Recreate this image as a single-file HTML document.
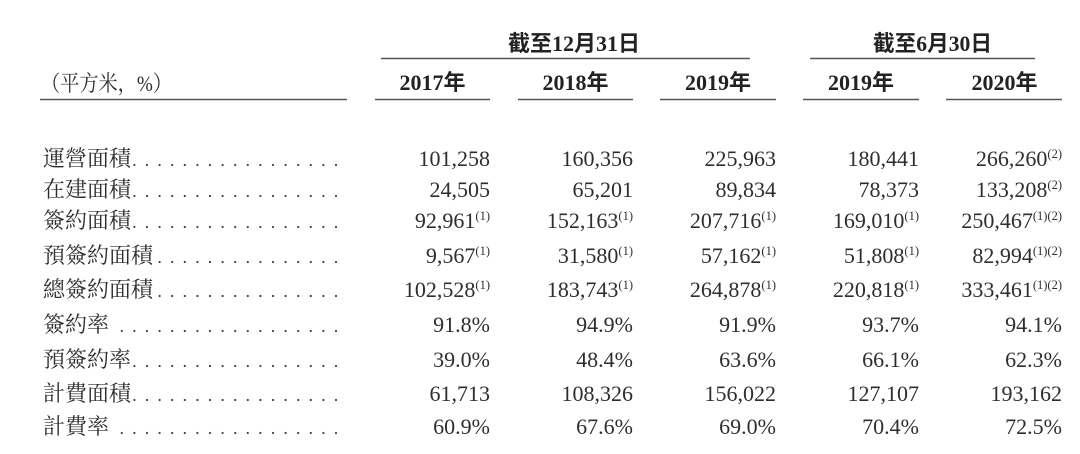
<!DOCTYPE html>
<html>
<head>
<meta charset="utf-8">
<style>
  html, body { margin: 0; padding: 0; background: #ffffff; }
  body { width: 1080px; height: 454px; overflow: hidden; }
  svg { display: block; }
  .lbl { font-family: "Liberation Serif", "Noto Serif CJK SC", serif; font-size: 22px; fill: #2e2e2e; }
  .num { font-family: "Liberation Serif", "Noto Serif CJK SC", serif; font-size: 22px; fill: #2e2e2e; }
  .hdr { font-family: "Liberation Serif", "Noto Sans CJK SC", sans-serif; font-size: 22px; font-weight: bold; fill: #222; }
  .sup { font-size: 12.5px; }
  .rule { stroke: #555; stroke-width: 1.6; }
  .dots { stroke: #444; stroke-width: 2.2; stroke-linecap: round; stroke-dasharray: 0 12.6; }
</style>
</head>
<body>
<svg width="1080" height="454" viewBox="0 0 1080 454" xmlns="http://www.w3.org/2000/svg">
  <!-- top group headers -->
  <text class="hdr" x="508" y="51" textLength="132" lengthAdjust="spacingAndGlyphs">截至12月31日</text>
  <text class="hdr" x="873" y="51" textLength="119" lengthAdjust="spacingAndGlyphs">截至6月30日</text>
  <line class="rule" x1="381" y1="58.5" x2="750" y2="58.5"/>
  <line class="rule" x1="810" y1="58.5" x2="1035" y2="58.5"/>

  <!-- unit label -->
  <text class="lbl" x="41" y="91" textLength="131" lengthAdjust="spacingAndGlyphs">（平方米，%）</text>

  <!-- year headers -->
  <text class="hdr" x="432.5" y="90" text-anchor="middle">2017年</text>
  <text class="hdr" x="575.5" y="90" text-anchor="middle">2018年</text>
  <text class="hdr" x="718" y="90" text-anchor="middle">2019年</text>
  <text class="hdr" x="861" y="90" text-anchor="middle">2019年</text>
  <text class="hdr" x="1004.5" y="90" text-anchor="middle">2020年</text>

  <!-- underlines -->
  <line class="rule" x1="40" y1="99.5" x2="347" y2="99.5"/>
  <line class="rule" x1="375" y1="99.5" x2="490" y2="99.5"/>
  <line class="rule" x1="518" y1="99.5" x2="633" y2="99.5"/>
  <line class="rule" x1="660" y1="99.5" x2="776" y2="99.5"/>
  <line class="rule" x1="803" y1="99.5" x2="919" y2="99.5"/>
  <line class="rule" x1="946" y1="99.5" x2="1062" y2="99.5"/>

  <!-- Row 1 -->
  <text class="lbl" x="43" y="166" textLength="88" lengthAdjust="spacingAndGlyphs">運營面積</text>
  <line class="dots" x1="134.4" y1="165" x2="336.5" y2="165"/>
  <text class="num" x="490" y="166" text-anchor="end">101,258</text>
  <text class="num" x="633" y="166" text-anchor="end">160,356</text>
  <text class="num" x="776" y="166" text-anchor="end">225,963</text>
  <text class="num" x="919" y="166" text-anchor="end">180,441</text>
  <text class="num" x="1062" y="166" text-anchor="end">266,260<tspan class="sup" dy="-8">(2)</tspan></text>

  <!-- Row 2 -->
  <text class="lbl" x="43" y="197" textLength="88" lengthAdjust="spacingAndGlyphs">在建面積</text>
  <line class="dots" x1="134.4" y1="196" x2="336.5" y2="196"/>
  <text class="num" x="490" y="197" text-anchor="end">24,505</text>
  <text class="num" x="633" y="197" text-anchor="end">65,201</text>
  <text class="num" x="776" y="197" text-anchor="end">89,834</text>
  <text class="num" x="919" y="197" text-anchor="end">78,373</text>
  <text class="num" x="1062" y="197" text-anchor="end">133,208<tspan class="sup" dy="-8">(2)</tspan></text>

  <!-- Row 3 -->
  <text class="lbl" x="43" y="228" textLength="88" lengthAdjust="spacingAndGlyphs">簽約面積</text>
  <line class="dots" x1="134.4" y1="227" x2="336.5" y2="227"/>
  <text class="num" x="490" y="228" text-anchor="end">92,961<tspan class="sup" dy="-8">(1)</tspan></text>
  <text class="num" x="633" y="228" text-anchor="end">152,163<tspan class="sup" dy="-8">(1)</tspan></text>
  <text class="num" x="776" y="228" text-anchor="end">207,716<tspan class="sup" dy="-8">(1)</tspan></text>
  <text class="num" x="919" y="228" text-anchor="end">169,010<tspan class="sup" dy="-8">(1)</tspan></text>
  <text class="num" x="1062" y="228" text-anchor="end">250,467<tspan class="sup" dy="-8">(1)(2)</tspan></text>

  <!-- Row 4 -->
  <text class="lbl" x="43" y="263" textLength="110" lengthAdjust="spacingAndGlyphs">預簽約面積</text>
  <line class="dots" x1="159.6" y1="262" x2="336.5" y2="262"/>
  <text class="num" x="490" y="263" text-anchor="end">9,567<tspan class="sup" dy="-8">(1)</tspan></text>
  <text class="num" x="633" y="263" text-anchor="end">31,580<tspan class="sup" dy="-8">(1)</tspan></text>
  <text class="num" x="776" y="263" text-anchor="end">57,162<tspan class="sup" dy="-8">(1)</tspan></text>
  <text class="num" x="919" y="263" text-anchor="end">51,808<tspan class="sup" dy="-8">(1)</tspan></text>
  <text class="num" x="1062" y="263" text-anchor="end">82,994<tspan class="sup" dy="-8">(1)(2)</tspan></text>

  <!-- Row 5 -->
  <text class="lbl" x="43" y="297" textLength="110" lengthAdjust="spacingAndGlyphs">總簽約面積</text>
  <line class="dots" x1="159.6" y1="296" x2="336.5" y2="296"/>
  <text class="num" x="490" y="297" text-anchor="end">102,528<tspan class="sup" dy="-8">(1)</tspan></text>
  <text class="num" x="633" y="297" text-anchor="end">183,743<tspan class="sup" dy="-8">(1)</tspan></text>
  <text class="num" x="776" y="297" text-anchor="end">264,878<tspan class="sup" dy="-8">(1)</tspan></text>
  <text class="num" x="919" y="297" text-anchor="end">220,818<tspan class="sup" dy="-8">(1)</tspan></text>
  <text class="num" x="1062" y="297" text-anchor="end">333,461<tspan class="sup" dy="-8">(1)(2)</tspan></text>

  <!-- Row 6 -->
  <text class="lbl" x="43" y="332" textLength="66" lengthAdjust="spacingAndGlyphs">簽約率</text>
  <line class="dots" x1="121.8" y1="331" x2="336.5" y2="331"/>
  <text class="num" x="490" y="332" text-anchor="end">91.8%</text>
  <text class="num" x="633" y="332" text-anchor="end">94.9%</text>
  <text class="num" x="776" y="332" text-anchor="end">91.9%</text>
  <text class="num" x="919" y="332" text-anchor="end">93.7%</text>
  <text class="num" x="1062" y="332" text-anchor="end">94.1%</text>

  <!-- Row 7 -->
  <text class="lbl" x="43" y="367" textLength="88" lengthAdjust="spacingAndGlyphs">預簽約率</text>
  <line class="dots" x1="134.4" y1="366" x2="336.5" y2="366"/>
  <text class="num" x="490" y="367" text-anchor="end">39.0%</text>
  <text class="num" x="633" y="367" text-anchor="end">48.4%</text>
  <text class="num" x="776" y="367" text-anchor="end">63.6%</text>
  <text class="num" x="919" y="367" text-anchor="end">66.1%</text>
  <text class="num" x="1062" y="367" text-anchor="end">62.3%</text>

  <!-- Row 8 -->
  <text class="lbl" x="43" y="401" textLength="88" lengthAdjust="spacingAndGlyphs">計費面積</text>
  <line class="dots" x1="134.4" y1="400" x2="336.5" y2="400"/>
  <text class="num" x="490" y="401" text-anchor="end">61,713</text>
  <text class="num" x="633" y="401" text-anchor="end">108,326</text>
  <text class="num" x="776" y="401" text-anchor="end">156,022</text>
  <text class="num" x="919" y="401" text-anchor="end">127,107</text>
  <text class="num" x="1062" y="401" text-anchor="end">193,162</text>

  <!-- Row 9 -->
  <text class="lbl" x="43" y="434" textLength="66" lengthAdjust="spacingAndGlyphs">計費率</text>
  <line class="dots" x1="121.8" y1="433" x2="336.5" y2="433"/>
  <text class="num" x="490" y="434" text-anchor="end">60.9%</text>
  <text class="num" x="633" y="434" text-anchor="end">67.6%</text>
  <text class="num" x="776" y="434" text-anchor="end">69.0%</text>
  <text class="num" x="919" y="434" text-anchor="end">70.4%</text>
  <text class="num" x="1062" y="434" text-anchor="end">72.5%</text>
</svg>
</body>
</html>
